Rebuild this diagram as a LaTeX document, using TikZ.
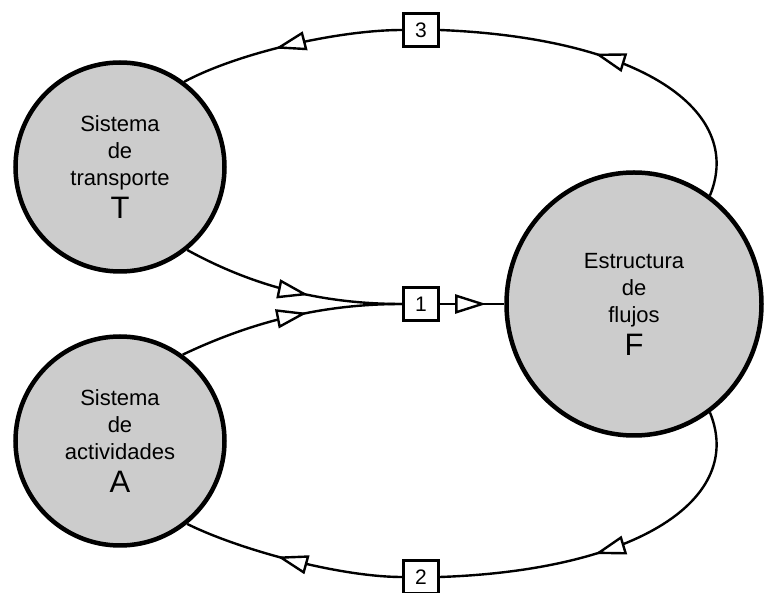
\documentclass[tikz,border=0pt]{standalone}
\usepackage{fontspec}
\setmainfont{Liberation Sans}
\usetikzlibrary{arrows.meta,shapes.geometric,decorations.markings}
\colorlet{GrisSistema}{gray!40}

\newcommand{\letra}[1]{{\fontsize{31}{31}\selectfont #1}}

\begin{document}
\begin{tikzpicture}[x=1pt,y=-1pt,
  sistema/.style={ellipse,draw,line width=4.5pt,fill=GrisSistema,inner sep=0pt,
    align=center,font=\fontsize{22}{27}\selectfont},
  caja/.style={draw,line width=2.8pt,fill=white,minimum width=35pt,
    minimum height=33pt,inner sep=0pt,font=\fontsize{21}{21}\selectfont},
  flujo/.style={line width=2.4pt},
  flecha/.style={postaction={decorate},decoration={markings,
    mark=at position #1 with {\arrow{Triangle[fill=white,length=31pt,width=19pt]}}}}]
  \useasboundingbox (0,0) rectangle (764,593);
  % los tres sistemas
  \node[sistema,minimum width=209pt,minimum height=209pt] (T) at (120,167)
    {Sistema\\de\\transporte\\[6pt]\letra{T}};
  \node[sistema,minimum width=209pt,minimum height=209pt] (A) at (120,441)
    {Sistema\\de\\actividades\\[6pt]\letra{A}};
  \node[sistema,minimum width=255pt,minimum height=263pt] (F) at (634,304)
    {Estructura\\de\\flujos\\[6pt]\letra{F}};
  % cajas numeradas
  \node[caja] (b3) at (421,30) {3};
  \node[caja] (b1) at (421,304) {1};
  \node[caja] (b2) at (421,577) {2};
  % conexiones
  \draw[flujo,flecha=0.58] (T.-51) .. controls (260,290) and (330,304) .. (b1.west);
  \draw[flujo,flecha=0.58] (A.54) .. controls (260,318) and (330,304) .. (b1.west);
  \draw[flujo,flecha=0.72] (b1.east) -- (F.west);
  \draw[flujo,flecha=0.57] (F.55) .. controls (745,110) and (640,38) .. (b3.east);
  \draw[flujo,flecha=0.57] (b3.west) .. controls (340,30) and (240,52) .. (T.53);
  \draw[flujo,flecha=0.57] (F.-55) .. controls (745,498) and (640,570) .. (b2.east);
  \draw[flujo,flecha=0.57] (b2.west) .. controls (340,577) and (240,550) .. (A.-51);
\end{tikzpicture}
\end{document}
